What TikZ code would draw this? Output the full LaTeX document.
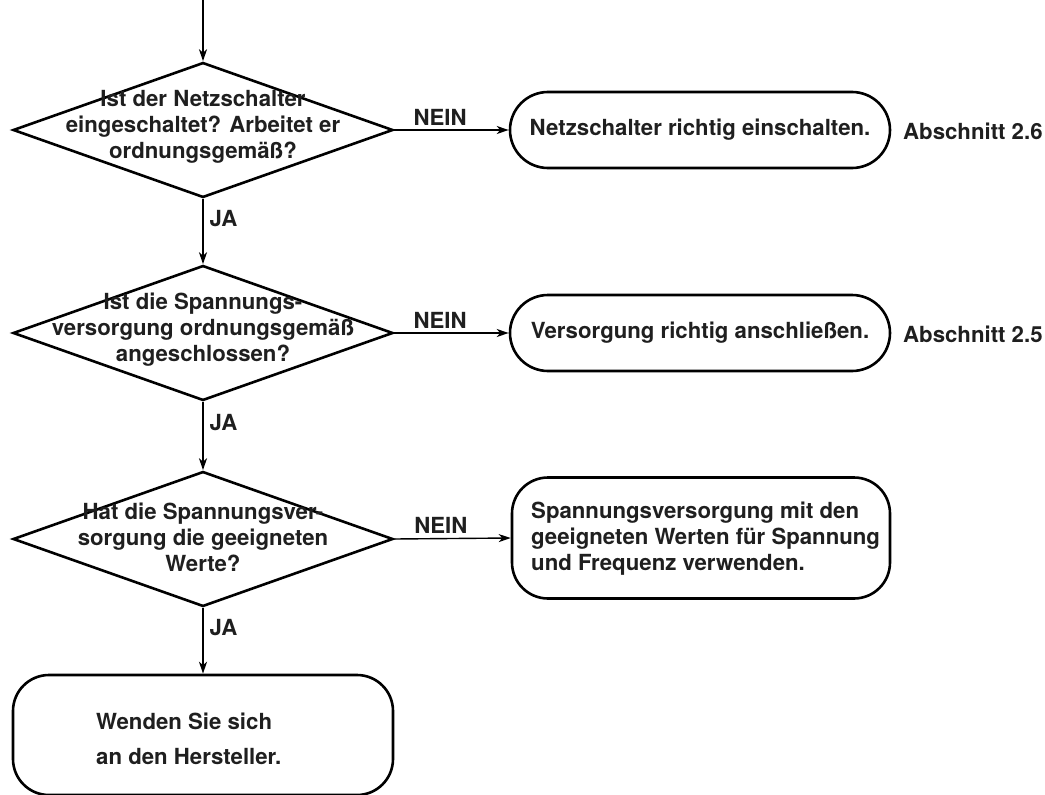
\documentclass[tikz,border=0pt]{standalone}
\usepackage{fontspec}
\setmainfont{TeX Gyre Heros}
\usetikzlibrary{shapes.geometric,arrows.meta}
\begin{document}
\begin{tikzpicture}[x=1pt,y=-1pt,
  every node/.style={font=\fontsize{22.2}{26}\selectfont\bfseries, text=black!88},
  question/.style={draw, diamond, line width=2.6pt, inner sep=0pt, aspect=2.8,
    minimum width=380pt, minimum height=135pt},
  qtext/.style={align=center, inner sep=0pt},
  action/.style={draw, rectangle, line width=2.6pt, inner sep=0pt,
    minimum width=380pt},
  flow/.style={line width=1.4pt, -{Stealth[length=12pt,width=8pt,inset=3.5pt]}},
  tag/.style={inner sep=0pt}
]
\useasboundingbox (0,0) rectangle (1045,795);

% decisions
\node[question] (d1) at (203,130) {};
\node[qtext] (t1) at (203,127) {Ist der Netzschalter\\eingeschaltet? Arbeitet er\\ordnungsgemäß?};
\node[question] (d2) at (203,333) {};
\node[qtext] (t2) at (203,330) {Ist die Spannungs-\\versorgung ordnungsgemäß\\angeschlossen?};
\node[question] (d3) at (203,539) {};
\node[qtext] (t3) at (203,537) {Hat die Spannungsver-\\sorgung die geeigneten\\Werte?};

% actions
\node[action, minimum height=76pt, rounded corners=38pt] (a1) at (700,130) {Netzschalter richtig einschalten.};
\node[action, minimum height=76pt, rounded corners=38pt] (a2) at (700,333) {Versorgung richtig anschließen.};
\node[action, minimum width=378pt, minimum height=121pt, rounded corners=36pt] (a3) at (701,538) {};
\node[qtext, align=left, anchor=west] (t4) at (531,539) {Spannungsversorgung mit den\\geeigneten Werten für Spannung\\und Frequenz verwenden.};
\node[action, minimum height=120pt, rounded corners=36pt] (a4) at (203,735) {};
\node[qtext, align=left, anchor=west, font=\fontsize{22.2}{35}\selectfont\bfseries] (t5) at (96,739) {Wenden Sie sich\\an den Hersteller.};

% references
\node[tag, anchor=west] (r1) at (903,131) {Abschnitt 2.6};
\node[tag, anchor=west] (r2) at (903,334) {Abschnitt 2.5};

% connectors
\coordinate (start) at (203,0);
\draw[flow] (start) -- (d1.north);
\draw[flow] (d1.east) -- node[above, pos=0.4, inner sep=4pt] (n1) {NEIN} (a1.west);
\draw[flow] (d1.south) -- node[right, pos=0.3, inner sep=6pt] (j1) {JA} (d2.north);
\draw[flow] (d2.east) -- node[above, pos=0.4, inner sep=4pt] (n2) {NEIN} (a2.west);
\draw[flow] (d2.south) -- node[right, pos=0.3, inner sep=6pt] (j2) {JA} (d3.north);
\draw[flow] (d3.east) -- node[above, pos=0.4, inner sep=4pt] (n3) {NEIN} (a3.west);
\draw[flow] (d3.south) -- node[right, pos=0.3, inner sep=6pt] (j3) {JA} (a4.north);
\end{tikzpicture}
\end{document}
